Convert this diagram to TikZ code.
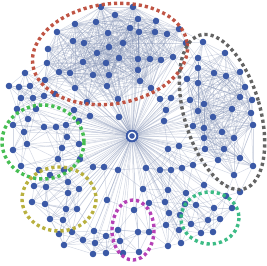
\documentclass[tikz,border=0pt]{standalone}
\usetikzlibrary{backgrounds}
\definecolor{NodeClr}{rgb}{0.23,0.35,0.65}
\definecolor{LinkClr}{rgb}{0.50,0.56,0.70}
\definecolor{RedClr}{rgb}{0.74,0.30,0.23}
\definecolor{GrayClr}{rgb}{0.36,0.36,0.36}
\definecolor{GreenClr}{rgb}{0.24,0.73,0.29}
\definecolor{OliveClr}{rgb}{0.71,0.68,0.21}
\definecolor{MagClr}{rgb}{0.70,0.22,0.70}
\definecolor{TealClr}{rgb}{0.20,0.72,0.50}
% largest link length inside each group
\newcommand\limr{65}
\newcommand\limk{58}
\newcommand\limg{38}
\newcommand\limo{36}
\newcommand\limm{32}
\newcommand\limt{32}
\newcommand\limf{34}
\newcommand\limx{30}

\begin{document}
\begin{tikzpicture}[x=1pt,y=-1pt,
  vx/.style={circle,fill=NodeClr,inner sep=0pt,minimum size=6.6pt},
  hub/.style={circle,fill=NodeClr,inner sep=0pt,minimum size=13pt},
  link/.style={draw=LinkClr,line width=0.5pt,opacity=0.35},
  ring/.style={line width=3.4pt,dash pattern=on 3.2pt off 3pt,opacity=0.95}]
\useasboundingbox (0,0) rectangle (267,265);

\node[hub] (hub) at (132,136) {};
\draw[white,line width=1.3pt] (hub.center) circle (3.6);

\foreach \x/\y/\c [count=\i] in {
  101/7/r,115/15/r,96/22/r,75/24/r,57/32/r,108/33/r,130/28/r,73/41/r,84/43/r,48/49/r,
  109/47/r,123/43/r,97/53/r,47/63/r,83/62/r,106/63/r,119/58/r,59/72/r,70/73/r,93/75/r,
  109/75/r,45/80/r,75/88/r,107/86/r,133/7/r,156/21/r,138/19/r,155/32/r,167/34/r,179/29/r,
  139/32/r,186/43/r,138/59/r,150/59/r,161/60/r,173/57/r,138/70/r,140/81/r,151/88/r,87/102/r,
  118/99/r,
  203/42/k,225/53/k,198/58/k,198/68/k,214/73/k,226/76/k,240/72/k,187/79/k,198/83/k,245/87/k,
  190/100/k,240/97/k,252/100/k,204/104/k,198/111/k,232/109/k,213/117/k,251/113/k,193/126/k,
  204/128/k,222/132/k,253/125/k,204/138/k,234/138/k,205/149/k,224/149/k,218/160/k,240/158/k,
  253/166/k,234/175/k,
  17/109/g,36/109/g,28/119/g,13/125/g,44/127/g,56/127/g,66/125/g,24/132/g,67/137/g,27/144/g,
  62/148/g,79/144/g,13/150/g,58/159/g,21/166/g,39/170/g,
  50/175/o,64/170/o,68/182/o,34/186/o,46/187/o,79/189/o,68/193/o,32/202/o,45/204/o,66/209/o,
  77/209/o,50/219/o,63/220/o,
  134/210/m,118/230/m,138/232/m,149/232/m,120/241/m,139/252/m,123/253/m,
  185/204/t,226/196/t,196/205/t,214/208/t,232/208/t,208/220/t,220/219/t,191/224/t,201/233/t,
  213/232/t,
  25/73/f,9/86/f,19/87/f,30/86/f,21/98/f,33/98/f,44/96/f,55/94/f,74/110/f,90/116/f,
  119/117/f,79/121/f,160/99/f,171/98/f,166/110/f,164/121/f,80/159/f,93/167/f,104/167/f,
  118/170/f,107/200/f,94/231/f,72/232/f,59/234/f,83/240/f,95/243/f,106/236/f,64/245/f,
  93/254/f,106/253/f,168/149/f,179/146/f,193/165/f,146/168/f,160/170/f,171/170/f,182/168/f,
  204/185/f,143/189/f,168/190/f,186/193/f,240/192/f,149/203/f,165/202/f,169/213/f,180/215/f,
  166/225/f,179/230/f,168/246/f,181/243/f}{
  \node[vx] (v\i) at (\x,\y) {};
  \expandafter\xdef\csname cl\i\endcsname{\c}
  \xdef\nv{\i}
}

\begin{pgfonlayer}{background}
\foreach \i in {1,...,\nv}{
  \draw[link] (hub) -- (v\i);
  \foreach \j in {\i,...,\nv}{
    \ifnum\j>\i\relax
      \pgfpointdiff{\pgfpointanchor{v\i}{center}}{\pgfpointanchor{v\j}{center}}
      \pgfgetlastxy{\dx}{\dy}
      \pgfmathsetmacro\dd{veclen(\dx,\dy)}
      \edef\ci{\csname cl\i\endcsname}\edef\cj{\csname cl\j\endcsname}
      \ifx\ci\cj\edef\dmax{\csname lim\ci\endcsname}\else\edef\dmax{\limx}\fi
      \ifdim\dd pt<\dmax pt\relax\draw[link] (v\i) -- (v\j);\fi
    \fi
  }
}
\end{pgfonlayer}

% groups
\draw[ring,RedClr,rotate around={8:(110,54)}] (110,54) ellipse [x radius=78,y radius=50];
\draw[ring,GrayClr,rotate around={16:(222,112)}] (222,112) ellipse [x radius=38,y radius=80];
\draw[ring,GreenClr] (43,142) ellipse [x radius=41,y radius=37];
\draw[ring,OliveClr] (59,199) ellipse [x radius=37,y radius=32];
\draw[ring,MagClr] (133,230) ellipse [x radius=21,y radius=30];
\draw[ring,TealClr] (210,218) ellipse [x radius=29,y radius=26];
\end{tikzpicture}
\end{document}
